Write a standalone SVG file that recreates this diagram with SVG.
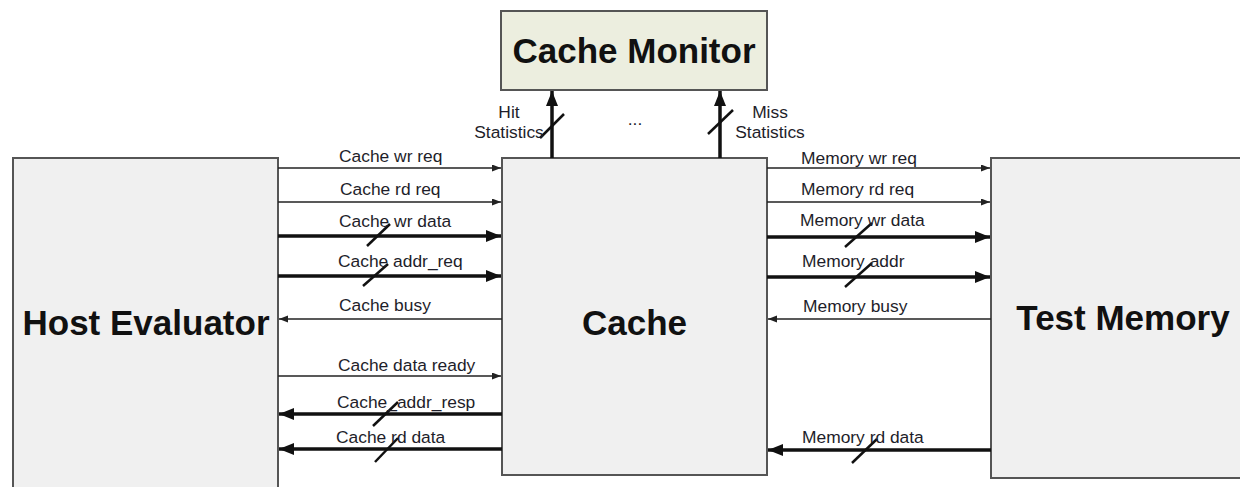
<svg xmlns="http://www.w3.org/2000/svg" width="1240" height="487" viewBox="0 0 1240 487">
<style>
.box{fill:#f0f0f0;stroke:#555;stroke-width:2}
.mon{fill:#eceedf;stroke:#555;stroke-width:2}
.title{font-family:"Liberation Sans",Arial,sans-serif;font-weight:bold;font-size:35px;fill:#111;text-anchor:middle}
.lbl{font-family:"Liberation Sans",Arial,sans-serif;font-size:17.4px;fill:#1e1e2a}
.ctr{text-anchor:middle}
.thin{stroke:#222;stroke-width:1.5;fill:none;marker-end:url(#ah)}
.thick{stroke:#111;stroke-width:3.5;fill:none;marker-end:url(#ahb)}
.sl{stroke:#111;stroke-width:2.5}
</style>
<defs>
<marker id="ah" markerUnits="userSpaceOnUse" markerWidth="10" markerHeight="8" refX="9" refY="3.5" orient="auto"><path d="M0,0 L9,3.5 L0,7 z" fill="#222"/></marker>
<marker id="ahb" markerUnits="userSpaceOnUse" markerWidth="16" markerHeight="13" refX="15" refY="6" orient="auto"><path d="M0,0 L15,6 L0,12 z" fill="#111"/></marker>
</defs>
<rect width="1240" height="487" fill="#fff"/>
<g id="monitor"><rect class="mon" x="501" y="11" width="266" height="79"/><text class="title" x="634" y="63">Cache Monitor</text></g>
<g id="host"><rect class="box" x="13" y="158" width="265" height="335"/><text class="title" x="146" y="335">Host Evaluator</text></g>
<g id="cache"><rect class="box" x="502" y="158" width="265" height="317"/><text class="title" x="634.5" y="335">Cache</text></g>
<g id="testmem"><rect class="box" x="991" y="158" width="260" height="320"/><text class="title" x="1123" y="330">Test Memory</text></g>
<g id="connectors">
<line class="thick" x1="552" y1="158" x2="552" y2="91"/>
<line class="sl" x1="540" y1="138" x2="564" y2="114"/>
<line class="thick" x1="720" y1="158" x2="720" y2="91"/>
<line class="sl" x1="708" y1="134" x2="733" y2="110"/>
<text class="lbl ctr" x="509" y="118">Hit</text>
<text class="lbl ctr" x="509" y="138">Statistics</text>
<text class="lbl ctr" x="770" y="118">Miss</text>
<text class="lbl ctr" x="770" y="138">Statistics</text>
<text class="lbl ctr" x="635" y="125">...</text>

<line class="thin" x1="278" y1="168" x2="501" y2="168"/>
<text class="lbl" x="339" y="162">Cache wr req</text>
<line class="thin" x1="278" y1="202" x2="501" y2="202"/>
<text class="lbl" x="340" y="195">Cache rd req</text>
<line class="thick" x1="278" y1="236" x2="501" y2="236"/>
<line class="sl" x1="367" y1="246" x2="390" y2="224"/>
<text class="lbl" x="339" y="227">Cache wr data</text>
<line class="thick" x1="278" y1="276" x2="501" y2="276"/>
<line class="sl" x1="363" y1="286" x2="388" y2="264"/>
<text class="lbl" x="338" y="267">Cache addr_req</text>
<line class="thin" x1="502" y1="319" x2="279" y2="319"/>
<text class="lbl" x="339" y="311">Cache busy</text>
<line class="thin" x1="278" y1="376" x2="501" y2="376"/>
<text class="lbl" x="338" y="371">Cache data ready</text>
<line class="thick" x1="502" y1="414" x2="279" y2="414"/>
<line class="sl" x1="373" y1="426" x2="398" y2="402"/>
<text class="lbl" x="337" y="408">Cache_addr_resp</text>
<line class="thick" x1="502" y1="449" x2="279" y2="449"/>
<line class="sl" x1="375" y1="462" x2="398" y2="438"/>
<text class="lbl" x="336" y="443">Cache rd data</text>

<line class="thin" x1="767" y1="168" x2="990" y2="168"/>
<text class="lbl" x="801" y="164">Memory wr req</text>
<line class="thin" x1="767" y1="202" x2="990" y2="202"/>
<text class="lbl" x="801" y="195">Memory rd req</text>
<line class="thick" x1="767" y1="237" x2="990" y2="237"/>
<line class="sl" x1="845" y1="247" x2="872" y2="223"/>
<text class="lbl" x="800" y="226">Memory wr data</text>
<line class="thick" x1="767" y1="277" x2="990" y2="277"/>
<line class="sl" x1="845" y1="287" x2="872" y2="263"/>
<text class="lbl" x="802" y="267">Memory addr</text>
<line class="thin" x1="991" y1="319" x2="768" y2="319"/>
<text class="lbl" x="803" y="312">Memory busy</text>
<line class="thick" x1="991" y1="450" x2="768" y2="450"/>
<line class="sl" x1="852" y1="463" x2="877" y2="439"/>
<text class="lbl" x="802" y="443">Memory rd data</text>
</g>
</svg>
